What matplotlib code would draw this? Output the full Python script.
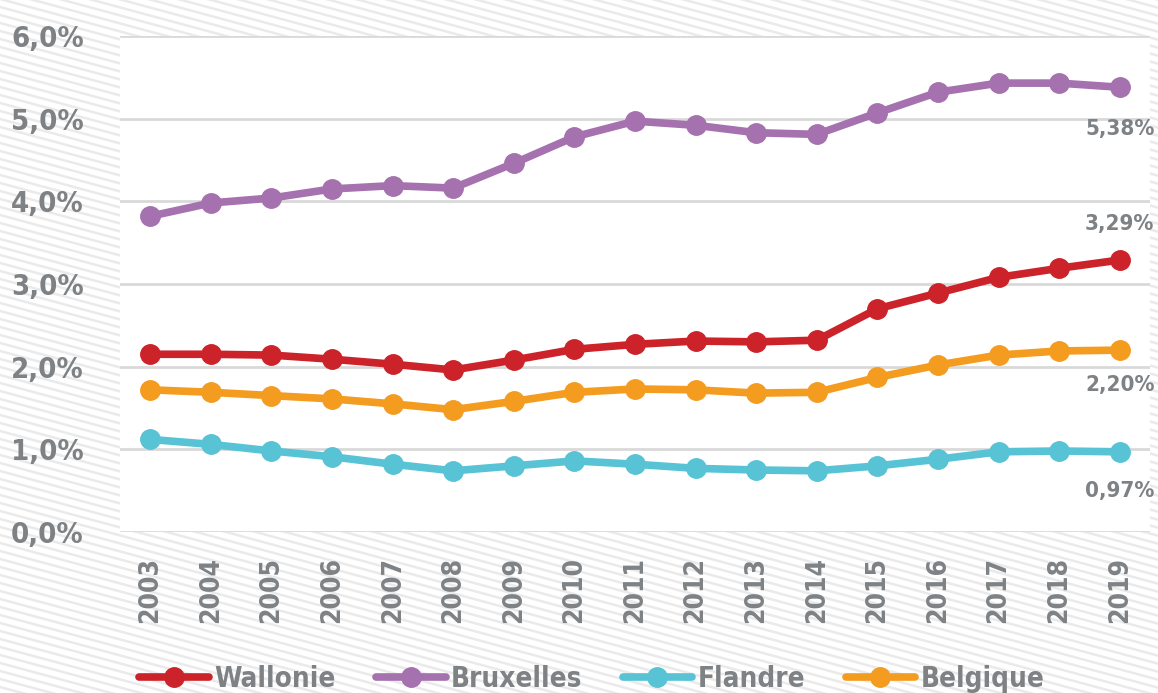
import matplotlib.pyplot as plt
from matplotlib.lines import Line2D
import numpy as np

years = [str(y) for y in range(2003, 2020)]

wallonie = [2.15, 2.15, 2.14, 2.09, 2.03, 1.96, 2.08, 2.21, 2.27, 2.31,
            2.30, 2.32, 2.70, 2.89, 3.08, 3.19, 3.29]
bruxelles = [3.82, 3.98, 4.04, 4.15, 4.19, 4.16, 4.46, 4.78, 4.97, 4.92,
             4.83, 4.81, 5.07, 5.32, 5.43, 5.43, 5.38]
flandre = [1.12, 1.06, 0.98, 0.91, 0.82, 0.74, 0.80, 0.86, 0.82, 0.77,
           0.75, 0.74, 0.80, 0.88, 0.97, 0.98, 0.97]
belgique = [1.72, 1.69, 1.65, 1.61, 1.55, 1.48, 1.58, 1.69, 1.73, 1.72,
            1.68, 1.69, 1.87, 2.02, 2.14, 2.19, 2.20]

series_names = ["Wallonie", "Bruxelles", "Flandre", "Belgique"]
end_labels = ["3,29%", "5,38%", "0,97%", "2,20%"]
colors = ["#CC2229", "#A571AE", "#57C3D5", "#F39C1F"]

plt.rcParams['font.family'] = ['DejaVu Sans']
plt.rcParams['font.stretch'] = 'condensed'
plt.rcParams['font.weight'] = 'bold'
grey = "#7F8285"

W, H = 1158, 693
fig = plt.figure(figsize=(W / 100, H / 100), dpi=100)
fig.patch.set_facecolor("white")

# striped background
slope = 0.27
for y0 in np.arange(-10, H + W * slope + 10, 8):
    fig.add_artist(Line2D([0, 1], [y0 / H, (y0 - W * slope) / H],
                          transform=fig.transFigure, color="#EAEAEA",
                          lw=1.8, zorder=-10))

ax = fig.add_axes([120 / W, 1 - 532 / H, (1150 - 120) / W, (532 - 36) / H])
ax.set_facecolor("white")
ax.set_zorder(1)

x = np.arange(len(years))
data = [wallonie, bruxelles, flandre, belgique]
for vals, name, col in zip(data, series_names, colors):
    ax.plot(x, vals, color=col, lw=5.5, marker="o", markersize=14,
            label=name, solid_capstyle="round")

# value labels at the last year
offsets = [(0, 26), (0, -30), (0, -28), (0, -25)]
for vals, lab, off in zip(data, end_labels, offsets):
    ax.annotate(lab, (x[-1], vals[-1]), xytext=off, textcoords="offset points",
                ha="center", va="center", fontsize=16, color=grey,
                annotation_clip=False)

ax.set_xlim(-0.5, 16.5)
ax.set_ylim(0, 6)
ax.set_yticks(np.arange(0, 7))
ax.set_yticklabels([f"{v},0%" for v in range(7)])
ax.set_xticks(x)
ax.set_xticklabels(years, rotation=90)
ax.tick_params(axis="y", length=0, pad=26, labelsize=21, labelcolor=grey)
ax.tick_params(axis="x", length=0, pad=18, labelsize=19, labelcolor=grey)
ax.grid(axis="y", color="#D9D9D9", lw=2)
ax.set_axisbelow(True)
for s in ax.spines.values():
    s.set_visible(False)

fig.legend(loc="center", bbox_to_anchor=(592 / W, 1 - 679 / H), ncol=4,
           frameon=False, fontsize=20, labelcolor=grey, handlelength=2.5,
           columnspacing=1.45, handletextpad=0.2)

fig.savefig("out.png", dpi=100)
